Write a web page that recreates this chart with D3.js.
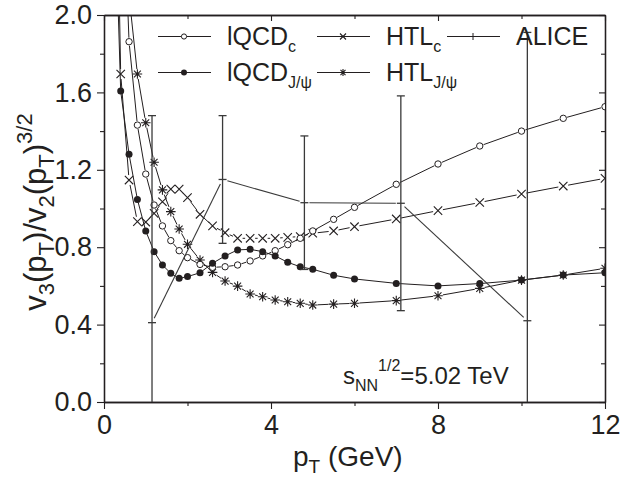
<!DOCTYPE html>
<html><head><meta charset="utf-8">
<script src="https://cdn.jsdelivr.net/npm/d3@7/dist/d3.min.js"></script>
<style>body{margin:0;background:#fff}svg{display:block}text{font-family:"Liberation Sans",Arial,sans-serif;fill:#231f20}</style>
</head><body>
<svg id="c" width="620" height="478"></svg>
<script>
// ---- data ----
const pt = [0.2,0.4,0.6,0.8,1.0,1.2,1.4,1.6,1.8,2.0,2.3,2.6,2.9,3.2,3.5,3.8,4.1,4.4,4.7,5.0,5.5,6,7,8,9,10,11,12];
const lqcdC   = [5.0,3.0,1.862,1.431,1.178,1.018,0.910,0.834,0.782,0.746,0.711,0.696,0.699,0.708,0.729,0.755,0.782,0.813,0.846,0.884,0.944,1.006,1.125,1.230,1.323,1.400,1.466,1.526];
const lqcdJ   = [3.0,1.607,1.280,1.047,0.884,0.777,0.708,0.665,0.639,0.648,0.668,0.717,0.755,0.786,0.789,0.777,0.755,0.722,0.699,0.686,0.655,0.636,0.613,0.600,0.612,0.630,0.656,0.668];
const htlC    = [4.0,1.695,1.147,0.932,0.93,0.975,1.035,1.10,1.10,1.056,0.97,0.91,0.875,0.846,0.846,0.846,0.846,0.851,0.855,0.872,0.884,0.906,0.946,0.989,1.031,1.075,1.116,1.156];
const htlJ    = [5.0,3.5,2.1,1.695,1.443,1.239,1.096,0.984,0.894,0.815,0.734,0.670,0.625,0.599,0.558,0.544,0.527,0.518,0.510,0.501,0.506,0.510,0.524,0.549,0.587,0.630,0.656,0.691];
const alicePt  = [1.15,2.84,4.80,7.11,10.14];
const aliceVal = [0.41,1.15,1.03,1.027,0.42];
const aliceErr = [1.07,0.33,0.345,0.555,1.49];
const xTicks = [0,4,8,12];
const yTicks = [0.0,0.4,0.8,1.2,1.6,2.0];

const svg = d3.select("#c");
const X0=104, X1=605, Y0=402, Y1=15;
const x = d3.scaleLinear([0,12],[X0,X1]);
const y = d3.scaleLinear([0,2],[Y0,Y1]);
const ink = "#231f20";

svg.append("clipPath").attr("id","clip").append("rect").attr("x",X0).attr("y",Y1).attr("width",X1-X0).attr("height",Y0-Y1);

// axes
function styleAxis(g){ g.select(".domain").attr("stroke",ink).attr("stroke-width",1.3); g.selectAll(".tick line").attr("stroke",ink).attr("stroke-width",1.1); g.selectAll("text").attr("font-size",27).style("font-family","'Liberation Sans',Arial,sans-serif").attr("fill",ink);}
const gB = svg.append("g").attr("transform",`translate(0,${Y0})`).call(d3.axisBottom(x).tickValues(xTicks).tickFormat(d3.format("d")).tickSize(7).tickPadding(6).tickSizeOuter(0));
styleAxis(gB);
svg.append("g").attr("transform",`translate(0,${Y0})`).call(d3.axisBottom(x).tickValues([2,6,10]).tickFormat("").tickSize(4).tickSizeOuter(0)).call(styleAxis);
const gL = svg.append("g").attr("transform",`translate(${X0},0)`).call(d3.axisLeft(y).tickValues(yTicks).tickFormat(d3.format(".1f")).tickSize(7).tickPadding(5).tickSizeOuter(0));
styleAxis(gL);
svg.append("g").attr("transform",`translate(${X0},0)`).call(d3.axisLeft(y).tickValues([0.2,0.6,1.0,1.4,1.8]).tickFormat("").tickSize(4).tickSizeOuter(0)).call(styleAxis);
svg.append("g").attr("transform",`translate(0,${Y1})`).call(d3.axisTop(x).tickValues(xTicks).tickFormat("").tickSize(-6).tickSizeOuter(0)).call(styleAxis);
svg.append("g").attr("transform",`translate(0,${Y1})`).call(d3.axisTop(x).tickValues([2,6,10]).tickFormat("").tickSize(-4).tickSizeOuter(0)).call(styleAxis);
svg.append("g").attr("transform",`translate(${X1},0)`).call(d3.axisRight(y).tickValues(yTicks).tickFormat("").tickSize(-6).tickSizeOuter(0)).call(styleAxis);
svg.append("g").attr("transform",`translate(${X1},0)`).call(d3.axisRight(y).tickValues([0.2,0.6,1.0,1.4,1.8]).tickFormat("").tickSize(-4).tickSizeOuter(0)).call(styleAxis);

const plot = svg.append("g").attr("clip-path","url(#clip)");

// segments with small gaps around markers
function gappedLine(g, xs, ys, gap, color, width){
  const pts = xs.map((d,i)=>[x(d), y(ys[i])]);
  for(let i=0;i<pts.length-1;i++){
    const [ax,ay]=pts[i],[bx,by]=pts[i+1];
    const L=Math.hypot(bx-ax,by-ay); if(L<=2*gap) continue;
    const ux=(bx-ax)/L, uy=(by-ay)/L;
    g.append("line").attr("x1",ax+ux*gap).attr("y1",ay+uy*gap).attr("x2",bx-ux*gap).attr("y2",by-uy*gap)
      .attr("stroke",color).attr("stroke-width",width);
  }
}
function marker(g, type, cx, cy, s){
  if(type==="open") g.append("circle").attr("cx",cx).attr("cy",cy).attr("r",s).attr("fill","#fff").attr("stroke",ink).attr("stroke-width",1);
  else if(type==="filled") g.append("circle").attr("cx",cx).attr("cy",cy).attr("r",s).attr("fill",ink);
  else if(type==="cross"){ g.append("path").attr("d",`M${cx-s},${cy-s}L${cx+s},${cy+s}M${cx-s},${cy+s}L${cx+s},${cy-s}`).attr("stroke",ink).attr("stroke-width",1.1).attr("fill","none"); }
  else if(type==="star"){ const d=s*0.72; g.append("path").attr("d",`M${cx-s},${cy}L${cx+s},${cy}M${cx},${cy-s}L${cx},${cy+s}M${cx-d},${cy-d}L${cx+d},${cy+d}M${cx-d},${cy+d}L${cx+d},${cy-d}`).attr("stroke",ink).attr("stroke-width",1.1).attr("fill","none"); }
  else if(type==="plus"){ g.append("path").attr("d",`M${cx-s},${cy}L${cx+s},${cy}M${cx},${cy-s}L${cx},${cy+s}`).attr("stroke",ink).attr("stroke-width",1).attr("fill","none"); }
}
const series = [
  {v:htlC, m:"cross", s:4.2, gap:5},
  {v:htlJ, m:"star", s:4.8, gap:5},
  {v:lqcdC, m:"open", s:3.2, gap:4},
  {v:lqcdJ, m:"filled", s:3.5, gap:3},
];
series.forEach(S=>{
  gappedLine(plot, pt, S.v, S.gap, ink, 1);
  pt.forEach((p,i)=>marker(plot,S.m,x(p),y(S.v[i]),S.s));
});

// ALICE
const aliceColor="#3a3a3a";
gappedLine(plot, alicePt, aliceVal, 5, aliceColor, 1.1);
alicePt.forEach((p,i)=>{
  const lo=Math.max(aliceVal[i]-aliceErr[i],-0.1), hi=aliceVal[i]+aliceErr[i];
  plot.append("line").attr("x1",x(p)).attr("x2",x(p)).attr("y1",y(lo)).attr("y2",y(hi)).attr("stroke",aliceColor).attr("stroke-width",1.3);
  [hi, aliceVal[i]-aliceErr[i]].forEach(v=>plot.append("line").attr("x1",x(p)-4).attr("x2",x(p)+4).attr("y1",y(v)).attr("y2",y(v)).attr("stroke",aliceColor).attr("stroke-width",1.3));
  plot.append("line").attr("x1",x(p)-4).attr("x2",x(p)+4).attr("y1",y(aliceVal[i])).attr("y2",y(aliceVal[i])).attr("stroke",aliceColor).attr("stroke-width",1.3);
});

// legend
const leg = svg.append("g");
function legItem(x0, yy, type, s, main, sub){
  leg.append("line").attr("x1",x0).attr("x2",x0+53).attr("y1",yy).attr("y2",yy).attr("stroke",ink).attr("stroke-width",1);
  marker(leg, type, x0+26, yy, s);
  const t = leg.append("text").attr("x",x0+69).attr("y",yy+8.5).attr("font-size",25);
  t.append("tspan").text(main);
  if(sub) t.append("tspan").attr("font-size",16).attr("dy",7).text(sub);
}
legItem(158, 36.5, "open", 2.6, "lQCD", "c");
legItem(317, 36.5, "cross", 3, "HTL", "c");
legItem(447, 36.5, "plus", 3.5, "ALICE", null);
legItem(158, 72.5, "filled", 3, "lQCD", "J/ψ");
legItem(317, 72.5, "star", 3.5, "HTL", "J/ψ");

// annotation
const ann = svg.append("text").attr("x",343).attr("y",384).attr("font-size",24);
ann.append("tspan").text("s");
ann.append("tspan").attr("font-size",16).attr("dy",7).text("NN");
ann.append("tspan").attr("font-size",16).attr("dy",-20).text("1/2");
ann.append("tspan").attr("dy",13).text("=5.02 TeV");

// axis titles
const xt = svg.append("text").attr("x",293).attr("y",466).attr("font-size",28);
xt.append("tspan").text("p");
xt.append("tspan").attr("font-size",19).attr("dy",7).text("T");
xt.append("tspan").attr("dy",-7).text(" (GeV)");

const yt = svg.append("text").attr("transform","translate(46,212) rotate(-90)").attr("text-anchor","middle").attr("font-size",31);
yt.append("tspan").text("v");
yt.append("tspan").attr("font-size",22).attr("dy",8).text("3");
yt.append("tspan").attr("dy",-8).text("(p");
yt.append("tspan").attr("font-size",22).attr("dy",8).text("T");
yt.append("tspan").attr("dy",-8).text(")/v");
yt.append("tspan").attr("font-size",22).attr("dy",8).text("2");
yt.append("tspan").attr("dy",-8).text("(p");
yt.append("tspan").attr("font-size",22).attr("dy",8).text("T");
yt.append("tspan").attr("dy",-8).text(")");
yt.append("tspan").attr("font-size",22).attr("dy",-14).text("3/2");
</script>
</body></html>
